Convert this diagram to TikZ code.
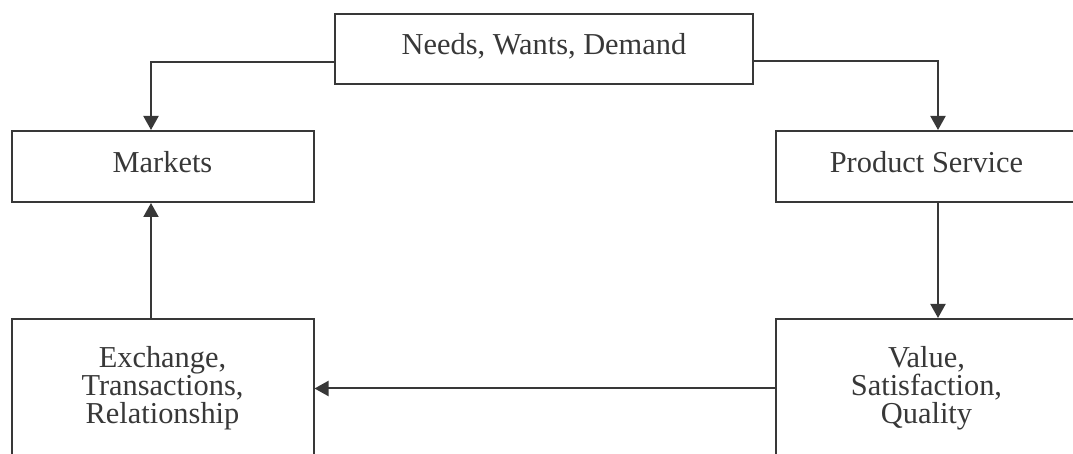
\documentclass[tikz,border=0pt]{standalone}
\usepackage{fontspec}
\setmainfont{Liberation Serif}
\usetikzlibrary{arrows.meta}
\definecolor{ink}{HTML}{383838}
\tikzset{
  box/.style={draw=ink,line width=1pt,text=ink,inner sep=0pt,align=center,font=\fontsize{15.2}{14}\selectfont},
  oneline/.style={text height=11pt,text depth=5pt},
  flow/.style={draw=ink,line width=1pt,-{Triangle[length=7pt,width=7.5pt]}}
}
\begin{document}
\begin{tikzpicture}[x=0.5pt,y=-0.5pt]
\pgfmathsetmacro{\boxw}{151}
\pgfmathsetmacro{\boxh}{35.5}
\pgfmathsetmacro{\tallh}{69.5}
\useasboundingbox (0,0) rectangle (1073,454);
\node[box,oneline,minimum width=209pt,minimum height=35pt] (needs) at (544,49) {Needs, Wants, Demand};
\node[box,oneline,minimum width=\boxw pt,minimum height=\boxh pt] (markets) at (162.5,166.5) {Markets};
\node[box,oneline,minimum width=\boxw pt,minimum height=\boxh pt] (product) at (926.5,166.5) {Product Service};
\node[box,minimum width=\boxw pt,minimum height=\tallh pt] (exchange) at (162.5,388.5) {Exchange,\\Transactions,\\Relationship};
\node[box,minimum width=\boxw pt,minimum height=\tallh pt] (value) at (926.5,388.5) {Value,\\Satisfaction,\\Quality};
\draw[flow] ([yshift=-6.5pt]needs.west) -| ([xshift=-5.75pt]markets.north);
\draw[flow] ([yshift=-6pt]needs.east) -| ([xshift=5.75pt]product.north);
\draw[flow] ([xshift=5.75pt]product.south) -- ([xshift=5.75pt]value.north);
\draw[flow] (value.west) -- (exchange.east);
\draw[flow] ([xshift=-5.75pt]exchange.north) -- ([xshift=-5.75pt]markets.south);
\end{tikzpicture}
\end{document}
